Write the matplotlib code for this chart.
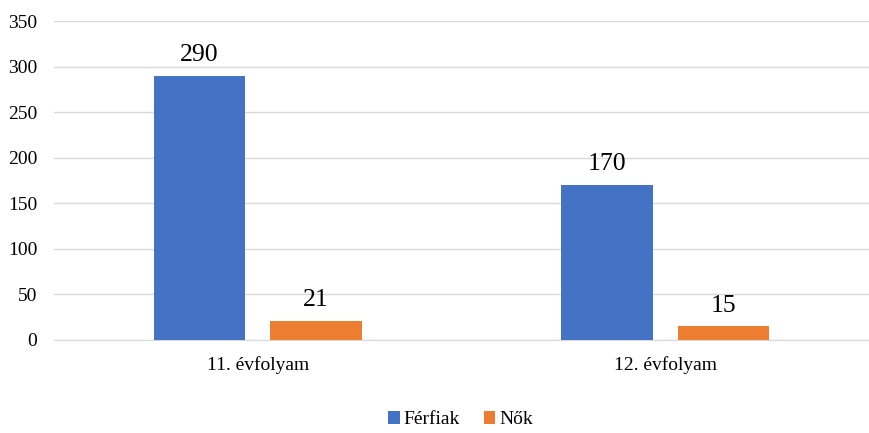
import numpy as np
import matplotlib.pyplot as plt

plt.rcParams['font.family'] = ['Liberation Serif', 'DejaVu Serif']

# adatok
categories = ['11. évfolyam', '12. évfolyam']
ferfiak = [290, 170]
nok = [21, 15]
yticks = [0, 50, 100, 150, 200, 250, 300, 350]

blue = '#4472C4'
orange = '#ED7D31'

fig = plt.figure(figsize=(8.69, 4.33), dpi=100)
ax = fig.add_axes([0.062, 0.215, 0.938, 0.736])

x = np.arange(len(categories))
w = 0.225
off = 0.143

b1 = ax.bar(x - off, ferfiak, w, color=blue, label='Férfiak', zorder=3)
b2 = ax.bar(x + off, nok, w, color=orange, label='Nők', zorder=3)

for bars in (b1, b2):
    for r in bars:
        ax.annotate(f'{int(r.get_height())}', (r.get_x() + r.get_width() / 2, r.get_height()),
                    xytext=(0, 7), textcoords='offset points', ha='center', va='bottom',
                    fontsize=18.5, color='#000000')

ax.set_xlim(-0.5, 1.5)
ax.set_ylim(0, 350)
ax.set_yticks(yticks)
ax.set_xticks(x)
ax.set_xticklabels(categories)
ax.tick_params(axis='both', length=0, labelsize=14, colors='#000000')
ax.tick_params(axis='y', pad=12)
ax.tick_params(axis='x', pad=12)
ax.grid(axis='y', color='#D9D9D9', linewidth=1, zorder=0)
for s in ['top', 'right', 'left']:
    ax.spines[s].set_visible(False)
ax.spines['bottom'].set_color('#D9D9D9')

fig.legend(handles=[b1, b2], loc='lower center', bbox_to_anchor=(0.53, -0.03), ncol=2,
           frameon=False, fontsize=14, handlelength=0.6, handleheight=0.6,
           handletextpad=0.2, columnspacing=1.2)

plt.savefig('out.png', dpi=100)
